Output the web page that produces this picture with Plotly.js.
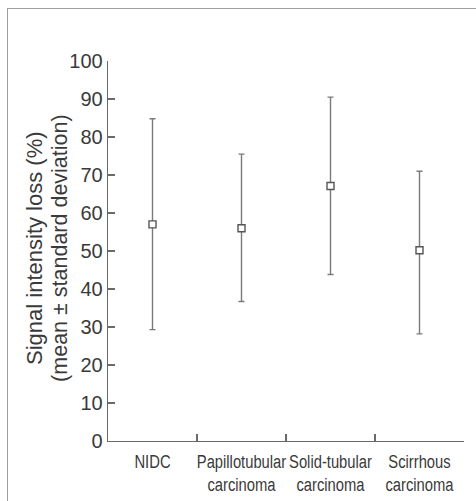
<!DOCTYPE html>
<html>
<head>
<meta charset="utf-8">
<script src="https://cdn.plot.ly/plotly-3.0.1.min.js"></script>
<style>
  html, body { margin: 0; padding: 0; background: #ffffff; }
  #wrap { position: relative; width: 476px; height: 501px; overflow: hidden; }
  #frame { position: absolute; left: 7px; top: 8px; width: 480px; height: 500px;
           border-top: 1.5px solid #a0a0a0; border-left: 1.5px solid #a0a0a0; }
  #chart { position: absolute; left: 0; top: 0; width: 476px; height: 501px; }
</style>
</head>
<body>
<div id="wrap">
  <div id="frame"></div>
  <div id="chart"></div>
</div>
<script>
// Data
const categories = ["NIDC<br> ", "Papillotubular<br>carcinoma", "Solid-tubular<br>carcinoma", "Scirrhous<br>carcinoma"];
const means = [57.0, 56.0, 67.1, 50.2];
const sdPlus = [27.8, 19.5, 23.4, 20.8];
const sdMinus = [27.7, 19.3, 23.3, 22.0];
const yTickVals = [0, 10, 20, 30, 40, 50, 60, 70, 80, 90, 100];

const ink = "#3a3a3a";
const axisGray = "#6a6a6a";

const trace = {
  type: "scatter",
  mode: "markers",
  x: categories,
  y: means,
  marker: {
    symbol: "square",
    size: 7,
    color: "#ffffff",
    line: { color: "#555555", width: 1.4 }
  },
  error_y: {
    type: "data",
    symmetric: false,
    array: sdPlus,
    arrayminus: sdMinus,
    color: "#7a7a7a",
    thickness: 1.4,
    width: 3
  },
  showlegend: false,
  hoverinfo: "skip"
};

const layout = {
  width: 476,
  height: 501,
  margin: { l: 108, r: 12, t: 61, b: 60 },
  paper_bgcolor: "rgba(0,0,0,0)",
  plot_bgcolor: "rgba(0,0,0,0)",
  xaxis: {
    type: "category",
    range: [-0.5, 3.5],
    tickson: "boundaries",
    ticks: "inside",
    ticklen: 7,
    tickwidth: 1.2,
    tickcolor: axisGray,
    showline: true,
    linecolor: axisGray,
    linewidth: 1.3,
    showgrid: false,
    zeroline: false,
    tickangle: 0,
    tickfont: { family: "'Liberation Sans', Arial, sans-serif", size: 18, color: ink },
    ticklabelstandoff: 4
  },
  yaxis: {
    range: [0, 100],
    tickmode: "array",
    tickvals: yTickVals,
    ticktext: yTickVals.map(String),
    ticks: "inside",
    ticklen: 7,
    tickwidth: 1.2,
    tickcolor: axisGray,
    showline: true,
    linecolor: axisGray,
    linewidth: 1.3,
    showgrid: false,
    zeroline: false,
    tickfont: { family: "'Liberation Sans', Arial, sans-serif", size: 20, color: ink }
  },
  annotations: [
    {
      text: "Signal intensity loss (%)",
      xref: "paper", yref: "paper",
      x: -0.205, y: 0.508,
      xanchor: "center", yanchor: "middle",
      textangle: -90, showarrow: false,
      font: { family: "'Liberation Sans', Arial, sans-serif", size: 22, color: ink }
    },
    {
      text: "(mean ± standard deviation)",
      xref: "paper", yref: "paper",
      x: -0.135, y: 0.508,
      xanchor: "center", yanchor: "middle",
      textangle: -90, showarrow: false,
      font: { family: "'Liberation Sans', Arial, sans-serif", size: 21.5, color: ink }
    }
  ]
};

// The reference uses a condensed face for category labels; compress glyphs horizontally.
function condenseXLabels() {
  const squeeze = 0.82;
  document.querySelectorAll("#chart .xtick text").forEach(function (t) {
    const parts = t.querySelectorAll("tspan.line");
    const nodes = parts.length ? Array.from(parts) : [t];
    nodes.forEach(function (n) {
      const len = n.getComputedTextLength();
      if (len > 0) {
        n.setAttribute("textLength", (len * squeeze).toFixed(1));
        n.setAttribute("lengthAdjust", "spacingAndGlyphs");
      }
    });
  });
}

Plotly.newPlot("chart", [trace], layout, { displayModeBar: false, staticPlot: true }).then(condenseXLabels);
</script>
</body>
</html>
